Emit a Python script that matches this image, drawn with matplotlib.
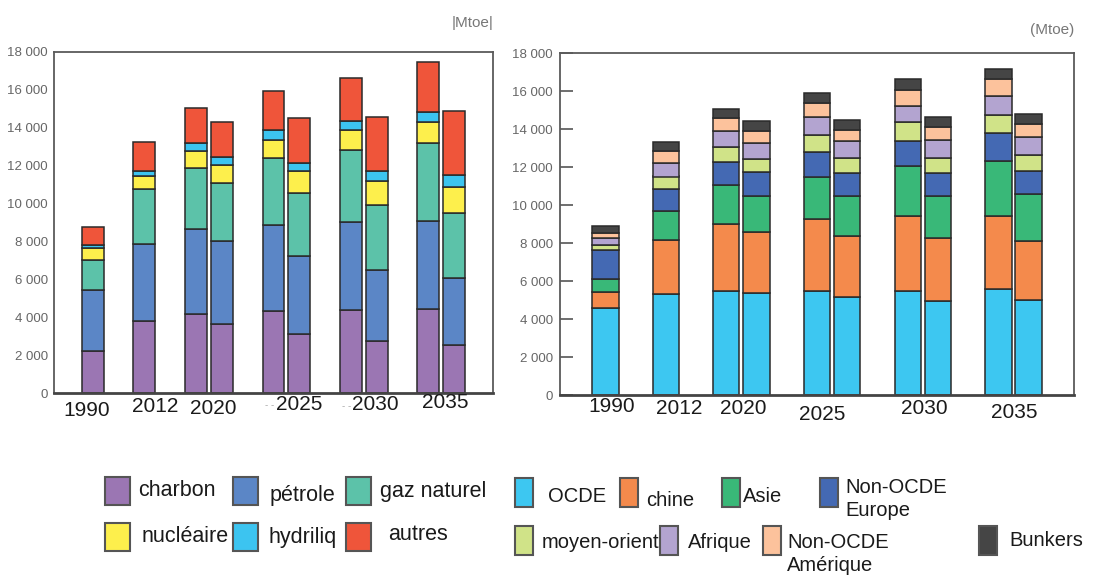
import matplotlib.pyplot as plt
from matplotlib.patches import Rectangle

W, H = 1097, 577

# bar order: 1990, 2012, 2020 (x2), 2025 (x2), 2030 (x2), 2035 (x2)
years = ['1990', '2012', '2020', '2025', '2030', '2035']
yticks = [0, 2000, 4000, 6000, 8000, 10000, 12000, 14000, 16000, 18000]

# left chart - by fuel (Mtoe)
charbon = [2200, 3790, 4170, 3660, 4310, 3130, 4370, 2730, 4440, 2550]
petrole = [3260, 4080, 4490, 4350, 4580, 4090, 4640, 3780, 4630, 3520]
gaz = [1580, 2900, 3220, 3050, 3520, 3340, 3840, 3440, 4130, 3440]
nucleaire = [620, 670, 880, 1000, 970, 1150, 1010, 1260, 1100, 1370]
hydro = [170, 270, 440, 390, 480, 440, 490, 500, 520, 650]
autres = [920, 1530, 1850, 1850, 2070, 2340, 2290, 2870, 2640, 3380]

# right chart - by region (Mtoe)
ocde = [4570, 5320, 5500, 5390, 5500, 5180, 5500, 4970, 5580, 5000]
chine = [840, 2850, 3490, 3180, 3770, 3200, 3900, 3280, 3820, 3080]
asie = [680, 1540, 2070, 1930, 2230, 2100, 2630, 2250, 2930, 2490]
europe_nocde = [1550, 1130, 1200, 1230, 1290, 1200, 1320, 1210, 1460, 1230]
moyen_orient = [260, 660, 770, 700, 910, 790, 1000, 760, 960, 840]
afrique = [350, 710, 840, 830, 930, 880, 880, 960, 970, 920]
amerique = [300, 610, 710, 650, 740, 610, 840, 670, 910, 700]
bunkers = [320, 470, 490, 490, 520, 490, 560, 530, 550, 530]

slots = [0, 2, 4, 5, 7, 8, 10, 11, 13, 14]

left_series = [charbon, petrole, gaz, nucleaire, hydro, autres]
left_colors = ['#9b76b3', '#5b86c6', '#5cc2a9', '#fdef4c', '#3cc4f0', '#ef553a']
left_names = ['charbon', 'pétrole', 'gaz naturel', 'nucléaire', 'hydriliq', 'autres']

right_series = [ocde, chine, asie, europe_nocde, moyen_orient, afrique, amerique, bunkers]
right_colors = ['#3dc7f1', '#f48a4c', '#39b878', '#4469b3', '#d0e388', '#b3a4d0', '#fcc29c', '#454545']

plt.rcParams['font.family'] = ['Liberation Sans', 'DejaVu Sans']

fig = plt.figure(figsize=(W / 100, H / 100), dpi=100)


def px(x, y):
    return x / W, 1 - y / H


def stack(ax, series, colors, width):
    bottom = [0] * len(slots)
    for vals, c in zip(series, colors):
        ax.bar(slots, vals, width, bottom=bottom, color=c, edgecolor='#2a2a2a', linewidth=1.1, zorder=2)
        bottom = [b + v for b, v in zip(bottom, vals)]


def style(ax, ticklen, pad):
    ax.set_xlim(-1.5, 15.5)
    ax.set_ylim(0, 18000)
    ax.set_xticks([])
    ax.set_yticks(yticks)
    ax.set_yticklabels([f'{v:,}'.replace(',', ' ') for v in yticks])
    ax.tick_params(axis='y', direction='in', length=ticklen, width=1.2, color='#555', pad=pad,
                   labelsize=9.5, labelcolor='#666')
    for s in ax.spines.values():
        s.set_color('#5a5a5a')
        s.set_linewidth(1.3)
    ax.spines['bottom'].set_color('#444')
    ax.spines['bottom'].set_linewidth(2)


# left chart
ax1 = fig.add_axes([54 / W, 1 - 393 / H, 439 / W, 341 / H])
stack(ax1, left_series, left_colors, 0.85)
style(ax1, 0, 4.5)

# right chart
ax2 = fig.add_axes([560 / W, 1 - 395 / H, 514 / W, 342 / H])
stack(ax2, right_series, right_colors, 0.87)
style(ax2, 9, 5)

fig.text(*px(473, 23), '|Mtoe|', ha='center', va='center', fontsize=11, color='#777')
fig.text(*px(1052, 30), '(Mtoe)', ha='center', va='center', fontsize=11, color='#777')

# year labels (placed by hand like in the original)
left_year_pos = [(87, 411), (155, 407), (213, 409), (299, 405), (375, 405), (445, 402)]
right_year_pos = [(612, 406), (679, 409), (743, 409), (822, 415), (924, 409), (1014, 413)]
for yr, (x, y) in zip(years, left_year_pos):
    fig.text(*px(x, y), yr, ha='center', va='center', fontsize=15, color='#1a1a1a')
for yr, (x, y) in zip(years, right_year_pos):
    fig.text(*px(x, y), yr, ha='center', va='center', fontsize=15, color='#1a1a1a')
fig.text(*px(270, 405), '- -', ha='center', va='center', fontsize=7, color='#aaa')
fig.text(*px(347, 406), '- -', ha='center', va='center', fontsize=7, color='#aaa')


def legend_box(x, y, w, h, color):
    fig.add_artist(Rectangle(px(x, y + h), w / W, h / H, transform=fig.transFigure,
                             facecolor=color, edgecolor='#555', linewidth=1.5))


# left legend
left_boxes = [(105, 477), (233, 477), (346, 477), (105, 523), (233, 523), (346, 523)]
left_texts = [(138, 491), (270, 495), (380, 491), (142, 536), (268, 537), (388, 534)]
for (bx, by), (tx, ty), c, n in zip(left_boxes, left_texts, left_colors, left_names):
    legend_box(bx, by, 25, 28, c)
    fig.text(*px(tx, ty), n, ha='left', va='center', fontsize=15.5, color='#1a1a1a')

# right legend
right_names = ['OCDE', 'chine', 'Asie', 'Non-OCDE\nEurope', 'moyen-orient', 'Afrique', 'Non-OCDE\nAmérique', 'Bunkers']
right_boxes = [(515, 478), (620, 478), (722, 478), (820, 478), (515, 526), (660, 526), (763, 526), (979, 526)]
right_texts = [(548, 497), (646, 500), (743, 496), (845, 499), (542, 542), (688, 543), (787, 554), (1009, 541)]
for (bx, by), (tx, ty), c, n in zip(right_boxes, right_texts, right_colors, right_names):
    legend_box(bx, by, 18, 29, c)
    fig.text(*px(tx, ty), n, ha='left', va='center', fontsize=14.5, color='#1a1a1a', linespacing=1.25)

fig.savefig('out.png', dpi=100)
